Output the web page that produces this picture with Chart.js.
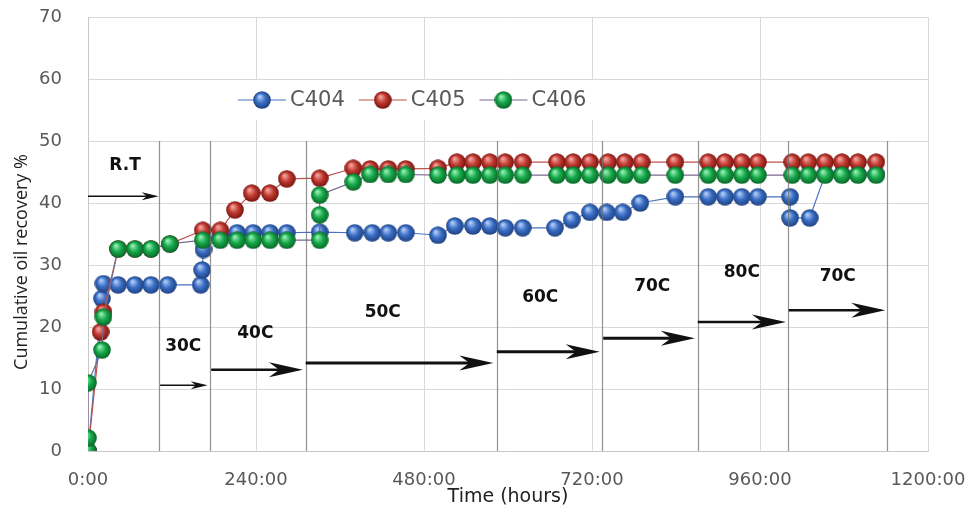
<!DOCTYPE html>
<html>
<head>
<meta charset="utf-8">
<script src="https://cdn.jsdelivr.net/npm/chart.js@4.4.1/dist/chart.umd.min.js"></script>
<style>
  html, body { margin: 0; padding: 0; background: #fff; }
</style>
</head>
<body>
<canvas id="grafica" width="973" height="515"></canvas>
<script>
// series (hours, cumulative recovery %)
const seriesNames = ["C404", "C405", "C406"];

const c404Hours = [0, 20, 22, 43, 67, 90, 114, 161, 163, 165, 189, 213, 236, 260, 284, 331,
  381, 406, 429, 454, 500, 524, 550, 574, 596, 621, 667, 691, 717, 741, 764, 789,
  839, 886, 910, 934, 957, 1003, 1003, 1031, 1053, 1077, 1100, 1126];
const c404Values = [0, 24.6, 27.0, 26.8, 26.8, 26.8, 26.8, 26.8, 29.2, 32.5, 34.5, 35.2, 35.2, 35.2, 35.2, 35.3,
  35.2, 35.2, 35.2, 35.2, 34.8, 36.3, 36.3, 36.3, 36.0, 36.0, 36.0, 37.3, 38.5, 38.5, 38.5, 40.0,
  41.0, 41.0, 41.0, 41.0, 41.0, 41.0, 37.6, 37.6, 44.6, 44.6, 44.6, 44.6];

const c405Hours = [0, 18, 22, 43, 67, 90, 117, 164, 189, 210, 234, 260, 284, 331,
  379, 403, 429, 454, 500, 527, 550, 574, 596, 621, 670, 693, 717, 743, 767, 791,
  839, 886, 910, 934, 957, 1006, 1029, 1053, 1077, 1100, 1126];
const c405Values = [0, 19.2, 22.4, 32.6, 32.6, 32.6, 33.4, 35.6, 35.6, 38.9, 41.6, 41.6, 43.9, 44.0,
  45.6, 45.5, 45.5, 45.5, 45.6, 46.6, 46.6, 46.6, 46.6, 46.6, 46.6, 46.6, 46.6, 46.6, 46.6, 46.6,
  46.6, 46.6, 46.6, 46.6, 46.6, 46.6, 46.6, 46.6, 46.6, 46.6, 46.6];

const c406Hours = [0, 0, 0, 20, 22, 43, 67, 90, 117, 164, 189, 213, 236, 260, 284, 331, 331, 331,
  379, 403, 429, 454, 500, 527, 550, 574, 596, 621, 670, 693, 717, 743, 767, 791,
  839, 886, 910, 934, 957, 1006, 1029, 1053, 1077, 1100, 1126];
const c406Values = [0, 2.1, 11.0, 16.3, 21.6, 32.6, 32.6, 32.6, 33.4, 34.0, 34.0, 34.0, 34.0, 34.0, 34.0, 34.0, 38.1, 41.3,
  43.4, 44.6, 44.6, 44.6, 44.5, 44.5, 44.5, 44.5, 44.5, 44.5, 44.5, 44.5, 44.5, 44.5, 44.5, 44.5,
  44.5, 44.5, 44.5, 44.5, 44.5, 44.5, 44.5, 44.5, 44.5, 44.5, 44.5];

// temperature stages
const stageLabels = ["R.T", "30C", "40C", "50C", "60C", "70C", "80C", "70C"];
const stageStart = [0, 103, 176, 311, 584, 736, 871, 1001];
const stageEnd = [101, 171, 307, 579, 731, 867, 997, 1139];
const arrowLevel = [41.1, 10.6, 13.1, 14.2, 16.0, 18.2, 20.8, 22.7];
const labelHour = [53, 136, 239, 421, 646, 806, 934, 1071];
const labelLevel = [46.1, 16.8, 19.0, 22.3, 24.7, 26.5, 28.7, 28.2];
const dividerHours = [101, 174, 311, 584, 734, 871, 1000, 1141];
const dividerTop = 50;

const xTicks = [0, 240, 480, 720, 960, 1200];

function puntos(horas, valores) {
  return horas.map((h, i) => ({ x: h, y: valores[i] }));
}

function esfera(base, claro, oscuro) {
  const c = document.createElement("canvas");
  c.width = 18;
  c.height = 18;
  const g = c.getContext("2d");
  const grad = g.createRadialGradient(6.5, 5.5, 0.5, 9, 9, 9);
  grad.addColorStop(0, claro);
  grad.addColorStop(0.5, base);
  grad.addColorStop(1, oscuro);
  g.fillStyle = grad;
  g.beginPath();
  g.arc(9, 9, 8.8, 0, Math.PI * 2);
  g.fill();
  return c;
}

const esferas = [
  esfera("#3b6fc6", "#b5d0f7", "#1d3f7e"),
  esfera("#c23a32", "#f4a9a2", "#75130e"),
  esfera("#17a94b", "#9af2b8", "#0a6427"),
];
const lineColors = ["#4a72c0", "#c0504d", "#7a6a8e"];

function flecha(ctx, x1, x2, y, ancho) {
  const largo = ancho > 2 ? 34 : 17;
  const alto = ancho > 2 ? 15 : 8;
  ctx.lineWidth = ancho;
  ctx.beginPath();
  ctx.moveTo(x1, y);
  ctx.lineTo(x2 - largo * 0.6, y);
  ctx.stroke();
  ctx.beginPath();
  ctx.moveTo(x2, y);
  ctx.lineTo(x2 - largo, y - alto / 2);
  ctx.lineTo(x2 - largo * 0.7, y);
  ctx.lineTo(x2 - largo, y + alto / 2);
  ctx.closePath();
  ctx.fill();
}

const anotaciones = {
  id: "anotaciones",
  afterDatasetsDraw(chart) {
    const ctx = chart.ctx;
    const xs = chart.scales.x;
    const ys = chart.scales.y;
    ctx.save();
    // stage dividers
    ctx.strokeStyle = "rgba(110,110,110,0.75)";
    ctx.lineWidth = 1.2;
    dividerHours.forEach((h) => {
      const px = Math.round(xs.getPixelForValue(h)) + 0.5;
      ctx.beginPath();
      ctx.moveTo(px, ys.getPixelForValue(dividerTop));
      ctx.lineTo(px, ys.getPixelForValue(0));
      ctx.stroke();
    });
    // arrows + labels
    const grosor = [1.5, 1.5, 2.5, 3, 3, 3, 2.5, 2.5];
    ctx.strokeStyle = "#111";
    ctx.fillStyle = "#111";
    stageLabels.forEach((t, i) => {
      flecha(ctx, xs.getPixelForValue(stageStart[i]), xs.getPixelForValue(stageEnd[i]),
        ys.getPixelForValue(arrowLevel[i]), grosor[i]);
    });
    ctx.font = "bold 17px 'DejaVu Sans'";
    ctx.textAlign = "center";
    ctx.textBaseline = "middle";
    stageLabels.forEach((t, i) => {
      ctx.fillText(t, xs.getPixelForValue(labelHour[i]), ys.getPixelForValue(labelLevel[i]));
    });
    ctx.restore();
  },
  afterDraw(chart) {
    const ctx = chart.ctx;
    ctx.save();
    // y axis title
    ctx.fillStyle = "#222";
    ctx.font = "18px 'Open Sans'";
    ctx.textAlign = "center";
    ctx.textBaseline = "middle";
    ctx.translate(22, 262);
    ctx.rotate(-Math.PI / 2);
    ctx.fillText("Cumulative oil recovery %", 0, 0);
    ctx.restore();

    // legend inside plot
    ctx.save();
    ctx.fillStyle = "#fff";
    ctx.fillRect(222, 80, 398, 40);
    ctx.font = "21px 'DejaVu Sans'";
    ctx.textBaseline = "middle";
    ctx.textAlign = "left";
    let x = 238;
    const y = 100;
    chart.data.datasets.forEach((ds, i) => {
      ctx.strokeStyle = lineColors[i];
      ctx.lineWidth = 1.2;
      ctx.beginPath();
      ctx.moveTo(x, y);
      ctx.lineTo(x + 48, y);
      ctx.stroke();
      ctx.drawImage(esferas[i], x + 24 - 9, y - 9);
      ctx.fillStyle = "#595959";
      ctx.fillText(ds.label, x + 52, y + 1);
      x += 52 + ctx.measureText(ds.label).width + 14;
    });
    ctx.restore();
  },
};

const ctx = document.getElementById("grafica").getContext("2d");
const grafica = new Chart(ctx, {
  type: "line",
  data: {
    datasets: [
      { label: seriesNames[0], data: puntos(c404Hours, c404Values), order: 3 },
      { label: seriesNames[1], data: puntos(c405Hours, c405Values), order: 2 },
      { label: seriesNames[2], data: puntos(c406Hours, c406Values), order: 1 },
    ].map((ds, i) => ({
      ...ds,
      borderColor: lineColors[i],
      borderWidth: 1.2,
      pointStyle: esferas[i],
      pointRadius: 9,
      tension: 0,
      fill: false,
    })),
  },
  plugins: [anotaciones],
  options: {
    responsive: false,
    animation: false,
    events: [],
    layout: { padding: { left: 0, right: 45, top: 17, bottom: 7 } },
    plugins: {
      legend: { display: false },
      tooltip: { enabled: false },
    },
    scales: {
      x: {
        type: "linear",
        min: 0,
        max: 1200,
        afterBuildTicks: (s) => { s.ticks = xTicks.map((v) => ({ value: v })); },
        afterFit: (s) => {
          s.height = 57;
          s.paddingLeft = 0;
          s.paddingRight = 0;
        },
        ticks: {
          callback: (v) => v + ":00",
          padding: 19,
          maxRotation: 0,
          color: "#595959",
          font: { family: "DejaVu Sans", size: 18 },
        },
        grid: { color: "#d9d9d9", drawTicks: false },
        border: { color: "#c8c8c8" },
        title: {
          display: true,
          text: "Time (hours)",
          color: "#222",
          font: { family: "DejaVu Sans", size: 19 },
          padding: { top: 0, bottom: 0 },
        },
      },
      y: {
        min: 0,
        max: 70,
        afterFit: (s) => {
          s.width = 88;
          s.paddingTop = 0;
          s.paddingBottom = 0;
        },
        ticks: {
          stepSize: 10,
          padding: 26,
          color: "#595959",
          font: { family: "DejaVu Sans", size: 18 },
        },
        grid: { color: "#d9d9d9", drawTicks: false },
        border: { color: "#c8c8c8" },
      },
    },
  },
});
</script>
</body>
</html>
